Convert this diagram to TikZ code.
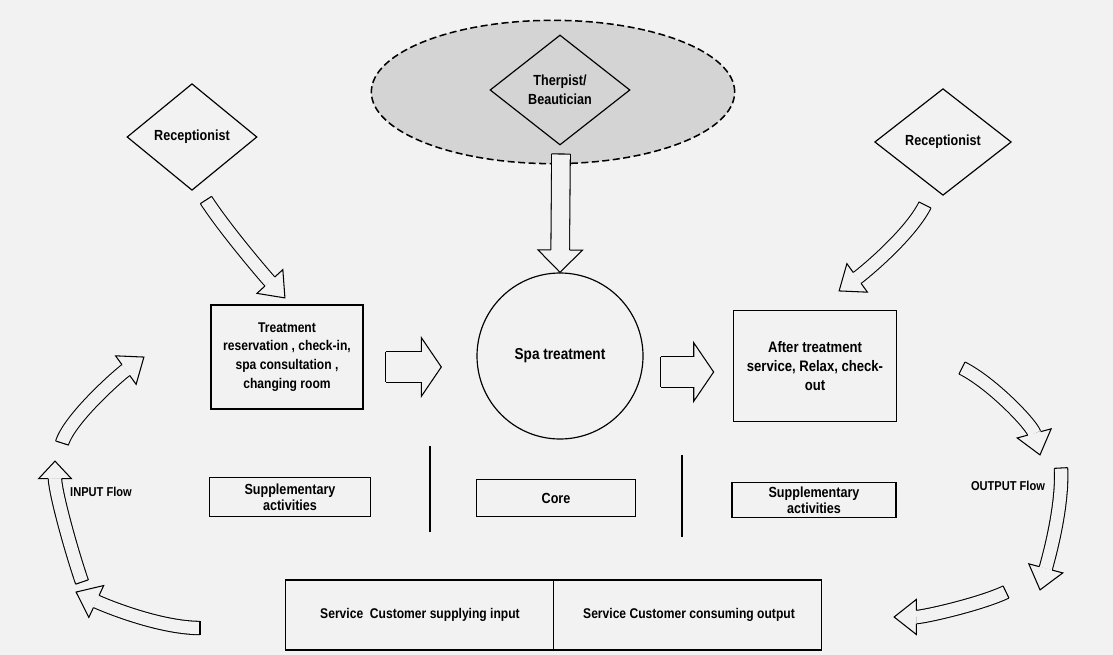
\documentclass[tikz,border=0pt]{standalone}
\usepackage{fontspec}
\newfontfamily\dgfont[FakeStretch=0.86]{Liberation Sans}
\usetikzlibrary{calc}
\usetikzlibrary{shapes.geometric}
\usetikzlibrary{decorations.markings}
\definecolor{paper}{gray}{0.95}
\definecolor{shade}{gray}{0.83}
\newcommand{\dgtext}[1]{\dgfont\bfseries\fontsize{#1}{16}\selectfont}

\tikzset{
	diam/.style={draw, diamond, line width=1pt, inner sep=0pt, align=center, font=\dgtext{12.5}},
	box/.style={draw, rectangle, line width=1pt, align=center, font=\dgtext{12.5}},
	suppbox/.style={box, inner sep=2pt, font=\dgfont\bfseries\fontsize{12.5}{13.5}\selectfont},
	lbl/.style={font=\dgtext{11}},
	hollow/.style n args={3}{line width=0.9pt, double=paper, double distance=#1, shorten >=#3,
		postaction={decorate, decoration={markings,
			mark=at position 0 with {\draw[draw=black, line width=0.9pt, shorten >=0pt, shorten <=0pt] (0,-#1/2-0.45pt) -- (0,#1/2+0.45pt);},
			mark=at position -0.1pt with {\fill[paper] (-#3,-#2) -- (0,0) -- (-#3,#2) -- cycle;
				\draw[draw=black, line width=0.9pt, line join=miter, shorten >=0pt, shorten <=0pt] (-#3,#1/2+0.45pt) -- (-#3,#2) -- (0,0) -- (-#3,-#2) -- (-#3,-#1/2-0.45pt);}}}},
	fatflow/.style={hollow={25pt}{25pt}{17pt}},
	thinflow/.style={hollow={10.5pt}{15pt}{19pt}},
}

\begin{document}
\begin{tikzpicture}[x=0.3mm, y=-0.3mm, line width=1pt]
	\useasboundingbox[fill=paper] (0,0) rectangle (1113,655);

	% staff on top
	\node[ellipse, draw, line width=1.3pt, dash pattern=on 6pt off 3pt, fill=shade,
		minimum width=10.9cm, minimum height=4.3cm] (staff) at (553,92) {};
	\node[diam, minimum width=4.2cm, minimum height=3.3cm] (ther) at (560,90) {Therpist/\\Beautician};
	\node[diam, minimum width=3.9cm, minimum height=3.2cm] (recL) at (192,137) {Receptionist};
	\node[diam, minimum width=4.1cm, minimum height=3.2cm] (recR) at (943,142) {Receptionist};

	% service steps
	\node[box, minimum width=4.56cm, minimum height=3.12cm, font=\dgtext{12}] (treat) at (287,357)
		{Treatment\\reservation , check-in,\\spa consultation ,\\changing room};
	\node[circle, draw, line width=1pt, minimum size=4.98cm, font=\dgtext{13.5}] (spa) at (560,356) {Spa treatment};
	\node[box, minimum width=4.9cm, minimum height=3.33cm, font=\dgtext{13}] (after) at (815,366)
		{After treatment\\service, Relax, check-\\out};

	\node[suppbox, minimum width=4.83cm, minimum height=1.17cm] (suppL) at (290,497) {Supplementary\\activities};
	\node[box, minimum width=4.77cm, minimum height=1.11cm] (core) at (556,498) {Core};
	\node[suppbox, minimum width=4.92cm, minimum height=1.05cm] (suppR) at (814,500) {Supplementary\\activities};
	\draw (430,446) -- (430,532);
	\draw (682,455) -- (682,537);

	% customers
	\node[box, minimum width=16.1cm, minimum height=2.1cm] (cust) at (553.5,615) {};
	\draw (cust.north) -- (cust.south);
	\node[font=\dgtext{12}] (cin) at (420,615) {Service\ \ Customer supplying input};
	\node[font=\dgtext{12}] (cout) at (689,615) {Service Customer consuming output};

	\node[lbl] (inlbl) at (101,492) {INPUT Flow};
	\node[lbl] (outlbl) at (1008,486) {OUTPUT Flow};

	% arrow ends
	\coordinate (d0) at (561,154);
	\coordinate (r0) at ($(treat.east)+(22,10)$);
	\coordinate (r1) at ($(spa.west)+(-35,11)$);
	\coordinate (s0) at ($(spa.east)+(17,16)$);
	\coordinate (s1) at ($(after.west)+(-19,6)$);
	\coordinate (a0) at (206,200);  \coordinate (a1) at (285,298);
	\coordinate (b0) at (925,205);  \coordinate (b1) at (839,291);
	\coordinate (c0) at (962,368);  \coordinate (c1) at (1040,455);
	\coordinate (e0) at (1061,468); \coordinate (e1) at (1040,590);
	\coordinate (f0) at (1006,592); \coordinate (f1) at (894,617);
	\coordinate (g0) at (200,628);  \coordinate (g1) at (76,592);
	\coordinate (h0) at (82,582);   \coordinate (h1) at (55,461);
	\coordinate (k0) at (62,443);   \coordinate (k1) at (144,357);

	\draw[hollow={15pt}{19pt}{19pt}] (d0) -- (spa.north);
	\draw[fatflow] (r0) -- (r1);
	\draw[fatflow] (s0) -- (s1);
	\draw[thinflow] (a0) .. controls +(18,28) and +(-22,-24) .. (a1);
	\draw[thinflow] (b0) .. controls +(-15,30) and +(25,-18) .. (b1);
	\draw[thinflow] (c0) .. controls +(30,15) and +(-8,-30) .. (c1);
	\draw[thinflow] (e0) .. controls +(2,40) and +(8,-30) .. (e1);
	\draw[thinflow] (f0) .. controls +(-25,12) and +(30,0) .. (f1);
	\draw[thinflow] (g0) .. controls +(-40,0) and +(30,14) .. (g1);
	\draw[hollow={10.5pt}{14pt}{15pt}] (h0) .. controls +(-12,-35) and +(0,30) .. (h1);
	\draw[thinflow] (k0) .. controls +(8,-25) and +(-25,18) .. (k1);
\end{tikzpicture}
\end{document}
